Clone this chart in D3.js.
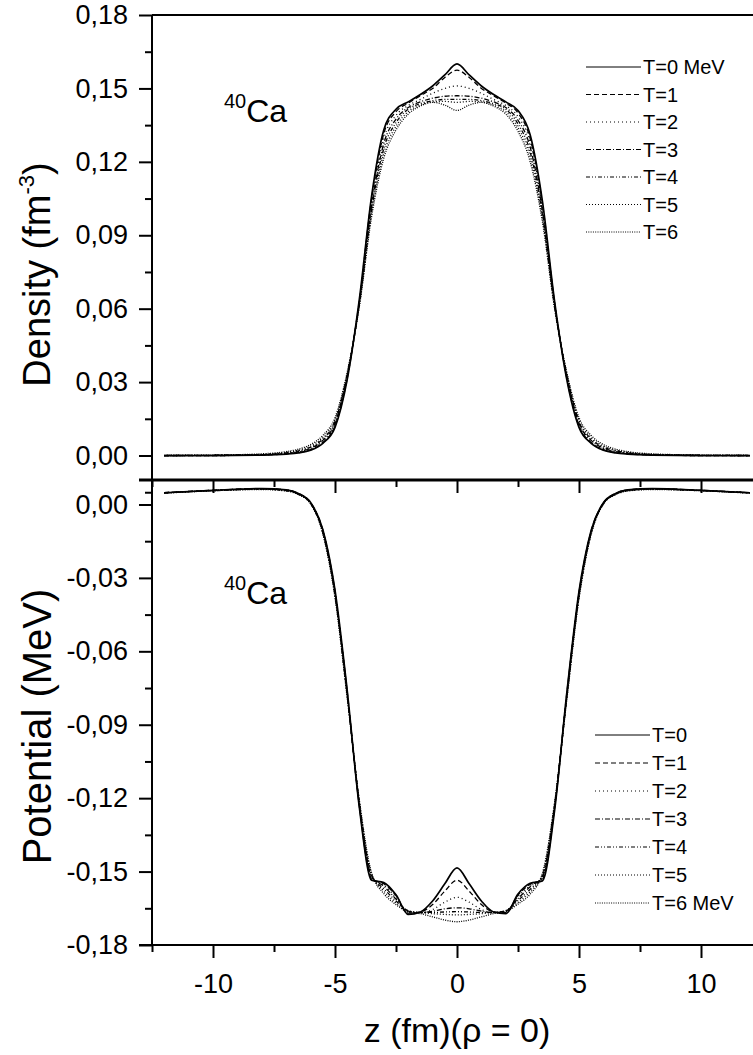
<!DOCTYPE html>
<html>
<head>
<meta charset="utf-8">
<script src="https://cdn.jsdelivr.net/npm/d3@7"></script>
<style>
  body { margin: 0; background: #fff; }
  svg text { font-family: Arial, "Liberation Sans", sans-serif; fill: #000; }
</style>
</head>
<body>
<svg id="chart" width="753" height="1055"></svg>
<script>
// z grid (fm), shared by all curves
var zGrid = [-12, -10, -8, -7, -6.5, -6, -5.5, -5, -4.5, -4, -3.5, -3, -2.5, -2, -1.5, -1, -0.5, 0,
  0.5, 1, 1.5, 2, 2.5, 3, 3.5, 4, 4.5, 5, 5.5, 6, 6.5, 7, 8, 10, 12]

// Density (fm^-3), one array per temperature
var densT0 = [0, 0, 0.0002, 0.0006, 0.0011, 0.0022, 0.005, 0.0115, 0.031, 0.064, 0.106, 0.133, 0.1415, 0.1445, 0.1475, 0.151, 0.1555, 0.160,
  0.1555, 0.151, 0.1475, 0.1445, 0.141, 0.131, 0.104, 0.063, 0.031, 0.0115, 0.005, 0.0022, 0.0011, 0.0006, 0.0002, 0, 0]
var densT1 = [0, 0, 0.0002, 0.0007, 0.0012, 0.0024, 0.0053, 0.012, 0.0315, 0.0635, 0.105, 0.1315, 0.1405, 0.144, 0.147, 0.150, 0.1545, 0.1575,
  0.1545, 0.150, 0.147, 0.144, 0.140, 0.1295, 0.103, 0.0625, 0.0315, 0.012, 0.0053, 0.0024, 0.0012, 0.0007, 0.0002, 0, 0]
var densT2 = [0, 0, 0.0003, 0.0008, 0.0014, 0.0027, 0.0057, 0.0126, 0.032, 0.063, 0.1035, 0.1295, 0.139, 0.143, 0.1455, 0.148, 0.150, 0.151,
  0.150, 0.148, 0.1455, 0.143, 0.1385, 0.128, 0.1015, 0.062, 0.032, 0.0126, 0.0057, 0.0027, 0.0014, 0.0008, 0.0003, 0, 0]
var densT3 = [0, 0.0001, 0.0003, 0.0009, 0.0016, 0.003, 0.0062, 0.0132, 0.0325, 0.0625, 0.102, 0.1275, 0.1375, 0.1422, 0.1445, 0.146, 0.1468, 0.147,
  0.1468, 0.146, 0.1445, 0.1422, 0.137, 0.126, 0.100, 0.0615, 0.0325, 0.0132, 0.0062, 0.003, 0.0016, 0.0009, 0.0003, 0.0001, 0]
var densT4 = [0, 0.0001, 0.0004, 0.0011, 0.0019, 0.0034, 0.0068, 0.0139, 0.033, 0.062, 0.1005, 0.1255, 0.136, 0.1415, 0.1438, 0.145, 0.1455, 0.1455,
  0.1455, 0.145, 0.1438, 0.1415, 0.1355, 0.124, 0.0985, 0.061, 0.033, 0.0139, 0.0068, 0.0034, 0.0019, 0.0011, 0.0004, 0.0001, 0]
var densT5 = [0, 0.0001, 0.0005, 0.0013, 0.0022, 0.0039, 0.0074, 0.0146, 0.0335, 0.0615, 0.099, 0.1235, 0.1345, 0.1405, 0.1432, 0.1445, 0.1447, 0.1443,
  0.1447, 0.1445, 0.1432, 0.1405, 0.134, 0.122, 0.097, 0.0605, 0.0335, 0.0146, 0.0074, 0.0039, 0.0022, 0.0013, 0.0005, 0.0001, 0]
var densT6 = [0.0001, 0.0002, 0.0007, 0.0016, 0.0026, 0.0045, 0.0082, 0.0155, 0.034, 0.061, 0.0975, 0.1215, 0.133, 0.1395, 0.1428, 0.1443, 0.1432, 0.141,
  0.1432, 0.1443, 0.1428, 0.1395, 0.1325, 0.120, 0.0955, 0.060, 0.034, 0.0155, 0.0082, 0.0045, 0.0026, 0.0016, 0.0007, 0.0002, 0.0001]

// Potential (MeV), one array per temperature
var potT0 = [0.0048, 0.0058, 0.0065, 0.006, 0.0045, 0.0008, -0.0102, -0.035, -0.076, -0.124, -0.1535, -0.1545, -0.1595, -0.1675, -0.1665, -0.162, -0.155, -0.1485,
  -0.155, -0.162, -0.1665, -0.1672, -0.1592, -0.1548, -0.1538, -0.125, -0.077, -0.0355, -0.0105, 0.0007, 0.0045, 0.006, 0.0065, 0.0058, 0.0048]
var potT1 = [0.0048, 0.0058, 0.0065, 0.006, 0.0045, 0.0007, -0.0105, -0.0355, -0.0765, -0.1235, -0.153, -0.155, -0.1598, -0.167, -0.1665, -0.1635, -0.158, -0.1535,
  -0.158, -0.1635, -0.1665, -0.1668, -0.1596, -0.1552, -0.1532, -0.1242, -0.0772, -0.036, -0.0108, 0.0006, 0.0045, 0.006, 0.0065, 0.0058, 0.0048]
var potT2 = [0.0048, 0.0058, 0.0064, 0.0059, 0.0044, 0.0006, -0.0108, -0.036, -0.077, -0.123, -0.1525, -0.1555, -0.1605, -0.1665, -0.1668, -0.1655, -0.1625, -0.1605,
  -0.1625, -0.1655, -0.1668, -0.1664, -0.1602, -0.1557, -0.1527, -0.1238, -0.0778, -0.0365, -0.011, 0.0005, 0.0044, 0.0059, 0.0064, 0.0058, 0.0048]
var potT3 = [0.0048, 0.0057, 0.0064, 0.0058, 0.0043, 0.0005, -0.0111, -0.0365, -0.0775, -0.1225, -0.152, -0.156, -0.1612, -0.1662, -0.1668, -0.1662, -0.1652, -0.1648,
  -0.1652, -0.1662, -0.1668, -0.1661, -0.161, -0.1562, -0.1522, -0.1232, -0.0783, -0.037, -0.0113, 0.0004, 0.0043, 0.0058, 0.0064, 0.0057, 0.0048]
var potT4 = [0.0047, 0.0057, 0.0063, 0.0057, 0.0042, 0.0004, -0.0114, -0.037, -0.078, -0.122, -0.1515, -0.157, -0.162, -0.166, -0.1667, -0.1667, -0.1665, -0.1664,
  -0.1665, -0.1667, -0.1667, -0.1659, -0.1618, -0.1572, -0.1517, -0.1228, -0.0788, -0.0375, -0.0116, 0.0003, 0.0042, 0.0057, 0.0063, 0.0057, 0.0047]
var potT5 = [0.0047, 0.0056, 0.0062, 0.0056, 0.0041, 0.0003, -0.0117, -0.0375, -0.0785, -0.1215, -0.151, -0.158, -0.1628, -0.1662, -0.1668, -0.1672, -0.1675, -0.1677,
  -0.1675, -0.1672, -0.1668, -0.1661, -0.1626, -0.1582, -0.1512, -0.1222, -0.0793, -0.038, -0.0119, 0.0002, 0.0041, 0.0056, 0.0062, 0.0056, 0.0047]
var potT6 = [0.0046, 0.0056, 0.0061, 0.0055, 0.004, 0.0002, -0.012, -0.038, -0.079, -0.121, -0.1505, -0.159, -0.1635, -0.1665, -0.1672, -0.1685, -0.1698, -0.1705,
  -0.1698, -0.1685, -0.1672, -0.1664, -0.1633, -0.1592, -0.1507, -0.1218, -0.0798, -0.0385, -0.0122, 0.0001, 0.004, 0.0055, 0.0061, 0.0056, 0.0046]

var densLegend = ['T=0 MeV', 'T=1', 'T=2', 'T=3', 'T=4', 'T=5', 'T=6']
  , potLegend = ['T=0', 'T=1', 'T=2', 'T=3', 'T=4', 'T=5', 'T=6 MeV']
  , densTicks = [0, 0.03, 0.06, 0.09, 0.12, 0.15, 0.18]
  , potTicks = [0, -0.03, -0.06, -0.09, -0.12, -0.15, -0.18]
  , zTicks = [-10, -5, 0, 5, 10]

// line style per temperature (index = T)
var dashes = [null, '5,3', '1,3', '5,2,1,2', '4,2,1,2,1,2', '1,2', '1,1.3']
  , widths = [1.7, 1.3, 1.3, 1.3, 1.3, 1.3, 1.3]

var svg = d3.select('#chart')
  , left = 152, right = 762
  , x = d3.scaleLinear().domain([-12.5, 12.5]).range([left, right])
  , fmt = function(v) { return d3.format('.2f')(v).replace('.', ',').replace('\u2212', '-') }

// Draws one of the two stacked panels
var drawPanel = function(opt) {
  var y = d3.scaleLinear().domain(opt.domain).range([opt.bottom, opt.top])
    , g = svg.append('g')
    , line = d3.line().curve(d3.curveMonotoneX)
        .x(function(d) { return x(d[0]) }).y(function(d) { return y(d[1]) })

  opt.series.forEach(function(vals, i) {
    g.append('path')
      .datum(zGrid.map(function(z, k) { return [z, vals[k]] }))
      .attr('d', line).attr('fill', 'none').attr('stroke', '#000')
      .attr('stroke-width', widths[i])
      .attr('stroke-dasharray', dashes[i])
  })

  // left axis, outward ticks
  var minors = d3.range(opt.domain[0], opt.domain[1] + 1e-9, 0.015)
    .filter(function(v) { return Math.abs(Math.round(v / 0.015) % 2) === 1 })
    .map(function(v) { return Math.round(v / 0.015) * 0.015 })
  g.append('g').attr('transform', 'translate(' + left + ',0)')
    .call(d3.axisLeft(y).tickValues(opt.ticks).tickFormat(fmt).tickSize(13).tickPadding(11))
    .call(function(a) {
      a.select('.domain').remove()
      a.selectAll('text').style('font-size', '27px')
      a.selectAll('line').attr('stroke-width', 2)
    })
  g.append('g').attr('transform', 'translate(' + left + ',0)')
    .call(d3.axisLeft(y).tickValues(minors).tickFormat('').tickSize(7))
    .call(function(a) { a.select('.domain').remove(); a.selectAll('line').attr('stroke-width', 2) })

  // right axis, inward ticks
  g.append('g').attr('transform', 'translate(' + right + ',0)')
    .call(d3.axisLeft(y).tickValues(opt.ticks).tickFormat('').tickSize(-13))
    .call(function(a) { a.select('.domain').remove(); a.selectAll('line').attr('stroke-width', 2) })

  g.append('line').attr('x1', left).attr('x2', left)
    .attr('y1', opt.top).attr('y2', opt.bottom).attr('stroke', '#000').attr('stroke-width', 2)
  g.append('line').attr('x1', right).attr('x2', right)
    .attr('y1', opt.top).attr('y2', opt.bottom).attr('stroke', '#000').attr('stroke-width', 2)

  // axis title
  g.append('text')
    .attr('transform', 'translate(' + opt.titleX + ',' + ((opt.top + opt.bottom) / 2 + opt.titleDy) + ') rotate(-90)')
    .attr('text-anchor', 'middle').style('font-size', opt.titleSize + 'px')
    .call(opt.title)

  // nucleus label
  var lab = g.append('text').attr('x', 224).attr('y', opt.labelY).style('font-size', '32px')
  lab.append('tspan').text('40').style('font-size', '20px').attr('dy', -14)
  lab.append('tspan').text('Ca').attr('dy', 14)

  // legend
  opt.legend.forEach(function(name, i) {
    var ly = opt.legendY + i * opt.legendStep
    g.append('line').attr('x1', opt.legendX).attr('x2', opt.legendX + 55)
      .attr('y1', ly).attr('y2', ly).attr('stroke', '#000')
      .attr('stroke-width', 1).attr('stroke-dasharray', dashes[i])
    g.append('text').attr('x', opt.legendX + 57).attr('y', ly + 7)
      .style('font-size', '20px').text(name)
  })
}

drawPanel({
  domain: [-0.01, 0.18], top: 15, bottom: 480, ticks: densTicks,
  series: [densT0, densT1, densT2, densT3, densT4, densT5, densT6],
  titleX: 50, titleDy: 27, titleSize: 38, labelY: 122,
  title: function(t) {
    t.append('tspan').text('Density (fm')
    t.append('tspan').text('-3').style('font-size', '22px').attr('dy', -16)
    t.append('tspan').text(')').attr('dy', 16)
  },
  legend: densLegend, legendX: 586, legendY: 67, legendStep: 27.5
})

drawPanel({
  domain: [-0.18, 0.01], top: 480, bottom: 945, ticks: potTicks,
  series: [potT0, potT1, potT2, potT3, potT4, potT5, potT6],
  titleX: 51, titleDy: 14, titleSize: 40, labelY: 604,
  title: function(t) { t.text('Potential (MeV)') },
  legend: potLegend, legendX: 595, legendY: 735, legendStep: 28
})

// horizontal frame lines
svg.append('line').attr('x1', left).attr('x2', right).attr('y1', 15).attr('y2', 15)
  .attr('stroke', '#000').attr('stroke-width', 2)
svg.append('line').attr('x1', left - 13).attr('x2', right).attr('y1', 480).attr('y2', 480)
  .attr('stroke', '#000').attr('stroke-width', 3)

// x ticks under the shared line and under the bottom axis
var zMinors = [-12.5, -7.5, -2.5, 2.5, 7.5, 12.5]
;[480, 945].forEach(function(yy, k) {
  var ax = svg.append('g').attr('transform', 'translate(0,' + yy + ')')
    .call(d3.axisBottom(x).tickValues(zTicks).tickFormat(k ? function(v) { return String(v) } : '')
      .tickSize(13).tickPadding(16))
  ax.select('.domain').remove()
  ax.selectAll('line').attr('stroke-width', 2)
  ax.selectAll('text').style('font-size', '27px')
  var mx = svg.append('g').attr('transform', 'translate(0,' + yy + ')')
    .call(d3.axisBottom(x).tickValues(zMinors).tickFormat('').tickSize(7))
  mx.select('.domain').remove()
  mx.selectAll('line').attr('stroke-width', 2)
})
svg.append('line').attr('x1', left - 13).attr('x2', right).attr('y1', 945).attr('y2', 945)
  .attr('stroke', '#000').attr('stroke-width', 2)

svg.append('text').attr('x', 457).attr('y', 1042).attr('text-anchor', 'middle')
  .style('font-size', '34px').text('z (fm)(\u03c1 = 0)')
</script>
</body>
</html>
